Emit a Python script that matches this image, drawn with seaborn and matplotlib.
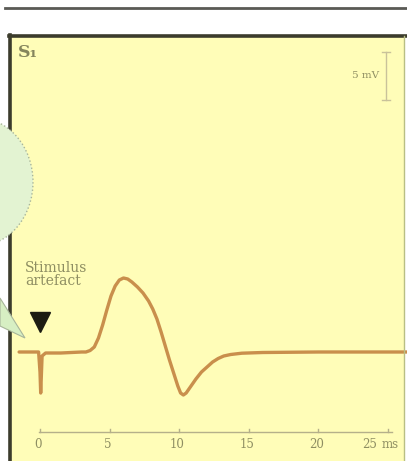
import matplotlib
matplotlib.use("Agg")
import matplotlib.pyplot as plt
from matplotlib.patches import Rectangle, Ellipse, Polygon
import seaborn as sns
import pandas as pd

# compound action potential trace (ms, mV)
time_ms = [-1.5, -0.6, -0.1, 0.0, 0.05, 0.15, 0.4, 1.5, 3.0, 3.3, 3.6, 3.9, 4.2, 4.5,
           4.8, 5.1, 5.4, 5.7, 6.0, 6.3, 6.6, 7.0, 7.4, 7.8, 8.1, 8.4, 8.7, 9.0,
           9.3, 9.6, 9.9, 10.1, 10.3, 10.5, 10.8, 11.2, 11.6, 12.0, 12.4, 12.8, 13.2,
           13.7, 14.5, 16.0, 20.0, 26.5]
volt_mv = [0.0, 0.0, 0.0, -2.0, -4.1, -0.4, -0.1, -0.1, 0.0, 0.0, 0.15, 0.5, 1.4, 2.7,
           4.2, 5.6, 6.6, 7.2, 7.4, 7.3, 7.0, 6.5, 5.9, 5.1, 4.3, 3.3, 2.0, 0.6,
           -0.8, -2.1, -3.4, -4.1, -4.3, -4.1, -3.5, -2.7, -2.0, -1.5, -1.0, -0.65, -0.4,
           -0.25, -0.12, -0.05, 0.0, 0.0]
tick_ms = [0, 5, 10, 15, 20, 25]
tick_labels = ["0", "5", "10", "15", "20", "25"]

W, H = 407, 461
fig = plt.figure(figsize=(W / 100, H / 100), dpi=100)
fig.patch.set_facecolor("white")

def fx(px):
    return px / W

def fy(py):
    return 1 - py / H

# yellow panel with dark frame
fig.add_artist(Rectangle((fx(9), 0), fx(405) - fx(9), fy(35), transform=fig.transFigure,
                         facecolor="#FFFDB8", edgecolor="none", zorder=0))
fig.add_artist(plt.Line2D([fx(10), fx(10)], [0, fy(35)], transform=fig.transFigure,
                          color="#3c3c2c", lw=2.6, zorder=5))
fig.add_artist(plt.Line2D([fx(9), fx(406)], [fy(36), fy(36)], transform=fig.transFigure,
                          color="#3c3c2c", lw=2.6, zorder=5))
fig.add_artist(plt.Line2D([fx(404), fx(404)], [0, fy(36)], transform=fig.transFigure,
                          color="#b9bf84", lw=1.0, zorder=5))
# line of the previous panel at the top
fig.add_artist(plt.Line2D([fx(5), fx(407)], [fy(8), fy(8)], transform=fig.transFigure,
                          color="#5a5a55", lw=2, zorder=5))

ax = fig.add_axes([0, 0, 1, 1], zorder=2)
ax.set_xlim(-40 / 13.92, 367 / 13.92)
ax.set_ylim(-10.9, 35.2)
ax.axis("off")
ax.patch.set_alpha(0)

df = pd.DataFrame({"t": time_ms, "v": volt_mv})
sns.lineplot(data=df, x="t", y="v", estimator=None, sort=False, color="#C98F4C",
             lw=2.4, ax=ax, zorder=3, solid_joinstyle="round", solid_capstyle="round")

# time axis
txt_col = "#8e8e62"
ax.plot([-0.1, 25.3], [-8, -8], color="#b5b08a", lw=1.0)
for t, lab in zip(tick_ms, tick_labels):
    ax.plot([t, t], [-8, -7.7], color="#b5b08a", lw=1.0)
    ax.text(t - (1.3 if t == 25 else 0.15), -9.2, lab, ha="center", va="center",
            fontsize=8.5, family="DejaVu Serif", color=txt_col)
ax.text((399 - 40) / 13.92, -9.2, "ms", ha="right", va="center",
        fontsize=8.5, family="DejaVu Serif", color=txt_col)

# 5 mV scale bar
sx = (386 - 40) / 13.92
ax.plot([sx, sx], [25.2, 30.0], color="#c9c29a", lw=1.0)
ax.plot([sx - 0.3, sx + 0.3], [30.0, 30.0], color="#c9c29a", lw=1.0)
ax.plot([sx - 0.3, sx + 0.3], [25.2, 25.2], color="#c9c29a", lw=1.0)
ax.text(sx - 0.5, 27.6, "5 mV", ha="right", va="center", fontsize=7.5,
        family="DejaVu Serif", color=txt_col)

# panel label and annotation
ax.text((18 - 40) / 13.92, (352 - 53) / 10, "S\u2081", ha="left", va="center",
        fontsize=12.5, fontweight="bold", family="DejaVu Serif", color="#85855c")
ax.text((25 - 40) / 13.92, (352 - 261) / 10, "Stimulus\nartefact", ha="left", va="top",
        fontsize=10, family="DejaVu Serif", color=txt_col, linespacing=0.95)
ax.plot([0], [3.0], marker="v", markersize=14, color="#1c1c12", ls="none")

# speech bubble cut off at the left edge
fig.add_artist(Ellipse((fx(-22), fy(182)), 110 / W, 128 / H, transform=fig.transFigure,
                       facecolor="#e3f3d2", edgecolor="#a8b59a", lw=1.0, ls=":", zorder=6))
fig.add_artist(Polygon([(fx(0), fy(298)), (fx(25), fy(338)), (fx(0), fy(326))],
                       closed=True, transform=fig.transFigure,
                       facecolor="#d7efc3", edgecolor="#a8b59a", lw=0.8, zorder=6))

fig.savefig("out.png", dpi=100)
